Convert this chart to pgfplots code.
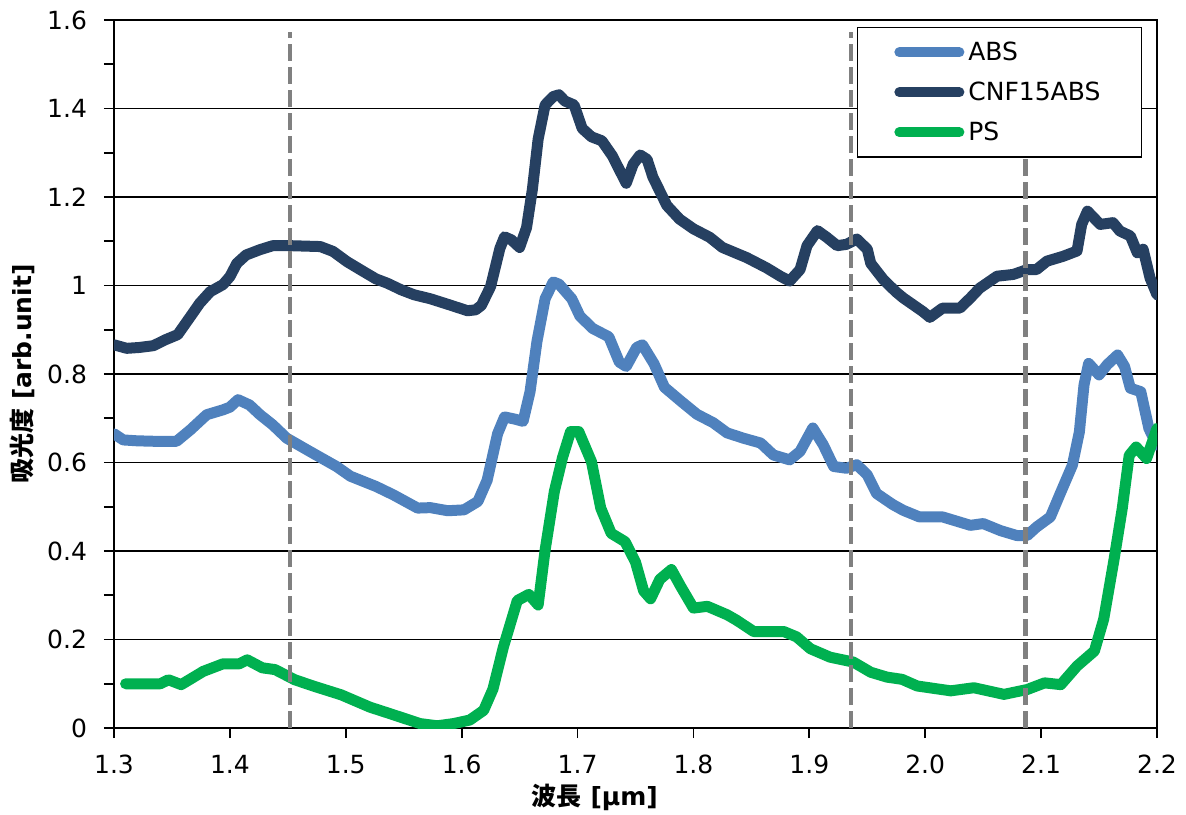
\documentclass[border=0pt]{standalone}
\usepackage{fontspec}
\setmainfont{DejaVu Sans}
\newfontfamily\cjk{Noto Sans CJK JP}
\usepackage{pgfplots}
\pgfplotsset{compat=1.18}
\definecolor{absc}{RGB}{79,129,189}
\definecolor{cnfc}{RGB}{38,64,97}
\definecolor{psc}{RGB}{0,176,80}
\definecolor{dashc}{RGB}{128,128,128}
\begin{document}
\begin{tikzpicture}
\begin{axis}[
  scale only axis, width=521.5pt, height=354pt,
  xmin=1.3, xmax=2.2, ymin=0, ymax=1.6,
  xtick={1.3,1.4,1.5,1.6,1.7,1.8,1.9,2.0,2.1,2.2},
  ytick={0,0.2,0.4,0.6,0.8,1.0,1.2,1.4,1.6},
  minor ytick={0.1,0.3,0.5,0.7,0.9,1.1,1.3,1.5},
  tick align=outside, tick pos=left,
  major tick length=5pt, minor tick length=5pt,
  ymajorgrids, grid style={black, line width=0.6pt},
  axis line style={black, line width=0.9pt},
  every tick/.style={black, line width=0.9pt},
  /pgf/number format/assume math mode=true,
  tick label style={font=\fontsize{12.5}{15}\selectfont},
  xticklabel style={yshift=-5pt, /pgf/number format/fixed, /pgf/number format/fixed zerofill, /pgf/number format/precision=1},
  yticklabel style={xshift=-5pt, /pgf/number format/fixed, /pgf/number format/precision=1},
  xlabel={\bfseries{\cjk 波長} [μm]},
  ylabel={\bfseries{\cjk 吸光度} [arb.unit]},
  label style={font=\fontsize{12.5}{15}\selectfont},
  xlabel style={at={(axis description cs:0.461,-0.0975)}, anchor=center},
  ylabel style={at={(axis description cs:-0.088,0.5)}, anchor=center},
  legend style={at={(axis description cs:1,1)}, anchor=north east, xshift=-7.5pt, yshift=-3.5pt,
    draw=black, line width=0.6pt, fill=white, font=\fontsize{12.5}{15}\selectfont,
    inner xsep=18.5pt, inner ysep=5pt, row sep=5.2pt},
  legend cell align=left,
  legend image code/.code={\draw[#1, line width=5pt, line cap=round] (0pt,0pt) -- (30pt,0pt);},
  every axis plot/.append style={line width=5.5pt, line join=round, line cap=round},
]
\addplot[absc] coordinates {
(1.300,0.665) (1.308,0.651) (1.320,0.649) (1.334,0.648) (1.354,0.648) (1.366,0.674) (1.380,0.708) (1.394,0.719) (1.400,0.725) (1.407,0.742) (1.417,0.730) (1.426,0.708) (1.437,0.685) (1.449,0.655) (1.469,0.625) (1.492,0.591) (1.504,0.569) (1.526,0.546) (1.541,0.527) (1.562,0.497) (1.573,0.498) (1.588,0.491) (1.602,0.493) (1.614,0.512) (1.622,0.560) (1.631,0.665) (1.637,0.703) (1.646,0.698) (1.653,0.693) (1.659,0.760) (1.665,0.874) (1.672,0.970) (1.679,1.008) (1.684,1.003) (1.695,0.970) (1.702,0.931) (1.713,0.903) (1.727,0.884) (1.736,0.827) (1.742,0.817) (1.751,0.860) (1.756,0.866) (1.766,0.823) (1.775,0.770) (1.789,0.739) (1.803,0.709) (1.817,0.690) (1.829,0.667) (1.843,0.655) (1.858,0.644) (1.869,0.617) (1.883,0.606) (1.892,0.625) (1.903,0.678) (1.912,0.640) (1.921,0.591) (1.932,0.587) (1.941,0.595) (1.950,0.572) (1.958,0.530) (1.972,0.505) (1.981,0.492) (1.995,0.477) (2.015,0.477) (2.039,0.458) (2.050,0.462) (2.065,0.446) (2.079,0.435) (2.088,0.435) (2.096,0.454) (2.108,0.477) (2.117,0.533) (2.127,0.594) (2.133,0.669) (2.137,0.775) (2.141,0.824) (2.150,0.798) (2.157,0.821) (2.166,0.843) (2.172,0.817) (2.177,0.768) (2.186,0.760) (2.193,0.677) (2.200,0.639)
};
\addlegendentry{ABS}
\addplot[cnfc] coordinates {
(1.300,0.866) (1.311,0.858) (1.322,0.860) (1.334,0.864) (1.344,0.877) (1.355,0.889) (1.366,0.930) (1.374,0.960) (1.383,0.986) (1.394,1.002) (1.400,1.020) (1.406,1.050) (1.414,1.069) (1.426,1.081) (1.437,1.090) (1.452,1.090) (1.465,1.089) (1.478,1.088) (1.489,1.077) (1.501,1.054) (1.515,1.032) (1.526,1.015) (1.536,1.005) (1.548,0.990) (1.559,0.979) (1.573,0.970) (1.591,0.955) (1.605,0.943) (1.612,0.945) (1.617,0.955) (1.625,0.998) (1.633,1.084) (1.637,1.110) (1.643,1.103) (1.650,1.086) (1.656,1.131) (1.661,1.217) (1.666,1.331) (1.672,1.408) (1.679,1.427) (1.684,1.431) (1.689,1.417) (1.697,1.408) (1.704,1.355) (1.712,1.336) (1.721,1.327) (1.730,1.293) (1.742,1.231) (1.748,1.274) (1.754,1.295) (1.760,1.285) (1.765,1.245) (1.777,1.181) (1.788,1.150) (1.800,1.128) (1.814,1.109) (1.825,1.086) (1.846,1.063) (1.863,1.040) (1.875,1.021) (1.883,1.010) (1.892,1.036) (1.898,1.090) (1.907,1.124) (1.915,1.109) (1.924,1.090) (1.932,1.093) (1.941,1.105) (1.950,1.082) (1.953,1.050) (1.964,1.013) (1.975,0.985) (1.981,0.972) (1.998,0.941) (2.004,0.928) (2.015,0.949) (2.030,0.949) (2.039,0.972) (2.047,0.994) (2.062,1.021) (2.076,1.025) (2.088,1.036) (2.096,1.036) (2.105,1.055) (2.119,1.066) (2.131,1.078) (2.135,1.138) (2.140,1.168) (2.151,1.138) (2.162,1.142) (2.168,1.123) (2.177,1.112) (2.183,1.074) (2.188,1.082) (2.194,1.017) (2.200,0.979)
};
\addlegendentry{CNF15ABS}
\addplot[psc] coordinates {
(1.310,0.100) (1.340,0.100) (1.347,0.109) (1.358,0.098) (1.377,0.128) (1.394,0.145) (1.408,0.145) (1.415,0.154) (1.428,0.136) (1.439,0.132) (1.456,0.109) (1.473,0.094) (1.496,0.075) (1.521,0.047) (1.541,0.030) (1.564,0.010) (1.579,0.005) (1.593,0.010) (1.607,0.018) (1.619,0.040) (1.627,0.088) (1.636,0.183) (1.648,0.288) (1.658,0.302) (1.666,0.278) (1.672,0.402) (1.680,0.535) (1.687,0.611) (1.694,0.670) (1.701,0.670) (1.712,0.602) (1.720,0.497) (1.729,0.440) (1.741,0.421) (1.750,0.375) (1.757,0.310) (1.763,0.292) (1.771,0.336) (1.781,0.358) (1.789,0.320) (1.800,0.271) (1.812,0.275) (1.829,0.256) (1.837,0.244) (1.852,0.218) (1.878,0.218) (1.889,0.206) (1.901,0.179) (1.918,0.160) (1.938,0.149) (1.953,0.126) (1.967,0.115) (1.980,0.110) (1.993,0.095) (2.022,0.084) (2.042,0.091) (2.068,0.076) (2.088,0.087) (2.103,0.102) (2.117,0.098) (2.131,0.140) (2.146,0.174) (2.154,0.246) (2.163,0.382) (2.170,0.496) (2.176,0.616) (2.182,0.635) (2.191,0.609) (2.200,0.677)
};
\addlegendentry{PS}
\addplot[dashc, line width=2.2pt, line cap=butt, dash pattern=on 8.5pt off 3pt, forget plot] coordinates {(1.4521,0) (1.4521,1.574)};
\addplot[dashc, line width=2.2pt, line cap=butt, dash pattern=on 8.5pt off 3pt, forget plot] coordinates {(1.9359,0) (1.9359,1.574)};
\addplot[dashc, line width=2.2pt, line cap=butt, dash pattern=on 8.5pt off 3pt, forget plot] coordinates {(2.0866,0) (2.0866,1.574)};
\end{axis}
\pgfresetboundingbox
\path[use as bounding box] ([shift={(-57pt,-43pt)}]current axis.south west) rectangle ([shift={(14.5pt,10pt)}]current axis.north east);
\end{tikzpicture}
\end{document}
